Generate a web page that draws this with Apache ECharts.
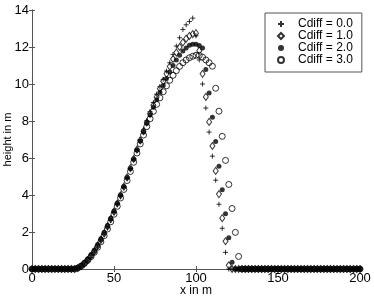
<!DOCTYPE html>
<html>
<head>
<meta charset="utf-8">
<script src="https://cdn.jsdelivr.net/npm/echarts@6/dist/echarts.min.js"></script>
<style>html,body{margin:0;padding:0;background:#fff}#c{width:374px;height:296px}</style>
</head>
<body>
<div id="c"></div>
<script>
const xValues = [0,2,4,6,8,10,12,14,16,18,20,22,24,26,28,30,32,34,36,38,40,42,44,46,48,50,52,54,56,58,60,62,64,66,68,70,72,74,76,78,80,82,84,86,88,90,92,94,96,98,100,102,104,106,108,110,112,114,116,118,120,122,124,126,128,130,132,134,136,138,140,142,144,146,148,150,152,154,156,158,160,162,164,166,168,170,172,174,176,178,180,182,184,186,188,190,192,194,196,198,200];

const cdiff0 = [0,0,0,0,0,0,0,0,0,0,0,0,0,0,
  0.02,0.1,0.22,0.4,0.62,0.88,1.18,1.5,1.85,2.22,2.62,3.04,3.48,3.94,4.42,4.92,5.43,5.95,6.47,7.0,7.52,8.02,
  8.5,9.0,9.45,9.85,10.25,10.7,11.15,11.6,12.05,12.5,12.95,13.2,13.38,13.56,12.6,11.3,10.0,8.7,7.4,6.1,4.8,3.5,2.2,0.9,0,
  0,0,0,0,0,0,0,0,0,0,0,0,0,0,0,0,0,0,0,0,0,0,0,0,0,0,0,0,0,0,0,0,0,0,0,0,0,0,0,0];

const cdiff1 = [0,0,0,0,0,0,0,0,0,0,0,0,0,0,
  0.05,0.15,0.3,0.48,0.7,0.95,1.25,1.58,1.92,2.3,2.7,3.1,3.54,3.98,4.45,4.95,5.45,5.95,6.45,6.95,7.45,7.92,
  8.4,8.85,9.3,9.75,10.15,10.55,10.95,11.35,11.7,12.0,12.25,12.45,12.6,12.7,12.75,11.8,10.55,9.3,7.95,6.65,5.3,4.05,2.75,1.5,0.2,0,
  0,0,0,0,0,0,0,0,0,0,0,0,0,0,0,0,0,0,0,0,0,0,0,0,0,0,0,0,0,0,0,0,0,0,0,0,0,0,0];

const cdiff2 = [0,0,0,0,0,0,0,0,0,0,0,0,0,0,
  0.08,0.2,0.36,0.55,0.78,1.03,1.32,1.64,1.98,2.35,2.74,3.14,3.56,4.0,4.46,4.94,5.43,5.93,6.43,6.92,7.4,7.88,
  8.32,8.75,9.15,9.55,9.92,10.3,10.65,11.0,11.3,11.55,11.78,11.95,12.1,12.15,12.15,12.08,11.95,10.78,9.52,8.2,6.89,5.56,4.28,2.98,1.69,0.37,0,
  0,0,0,0,0,0,0,0,0,0,0,0,0,0,0,0,0,0,0,0,0,0,0,0,0,0,0,0,0,0,0,0,0,0,0,0,0,0];

const cdiff3 = [0,0,0,0,0,0,0,0,0,0,0,0,0,0,
  0.06,0.16,0.3,0.47,0.67,0.9,1.17,1.47,1.8,2.16,2.55,2.96,3.39,3.84,4.3,4.78,5.27,5.77,6.27,6.76,7.24,7.7,
  8.12,8.52,8.9,9.25,9.58,9.9,10.2,10.47,10.72,10.95,11.15,11.3,11.42,11.5,11.55,11.55,11.45,11.3,11.15,10.96,9.77,8.53,7.17,5.87,4.57,3.27,1.98,0.68,0,
  0,0,0,0,0,0,0,0,0,0,0,0,0,0,0,0,0,0,0,0,0,0,0,0,0,0,0,0,0,0,0,0,0,0,0,0,0,0];

const seriesNames = ['Cdiff = 0.0','Cdiff = 1.0','Cdiff = 2.0','Cdiff = 3.0'];
const xTicks = [0,50,100,150,200];
const yTicks = [0,2,4,6,8,10,12,14];

const pairs = arr => xValues.map((x,i)=>[x,arr[i]]);
const FONT = '"Liberation Sans", Arial, sans-serif';
const AX = '#555';

const plusPath = 'path://M0,5L10,5M5,0L5,10';
const hollow = {color:'rgba(0,0,0,0)', borderColor:'#000', borderWidth:1};

const chart = echarts.init(document.getElementById('c'), null, {renderer:'canvas'});
const common = {type:'scatter', xAxisIndex:0, yAxisIndex:0, animation:false, emphasis:{disabled:true}};
chart.setOption({
  animation:false,
  grid:{left:32, right:14, top:10, bottom:27, show:false, containLabel:false, outerBoundsMode:'none'},
  legend:{
    orient:'vertical', left:265, top:13,
    padding:[5,9,6,12], itemGap:0, itemWidth:6, itemHeight:6,
    borderColor:AX, borderWidth:1, backgroundColor:'#fff',
    textStyle:{fontFamily:FONT, fontSize:12, color:'#000', lineHeight:11.5, padding:[0,0,0,9]},
    data:seriesNames, selectedMode:false
  },
  xAxis:[{
    type:'value', min:0, max:200, interval:50,
    name:'x in m', nameLocation:'middle', nameGap:16, nameMoveOverlap:false,
    nameTextStyle:{fontFamily:FONT, fontSize:12, color:'#000', verticalAlign:'top'},
    axisLine:{show:true, lineStyle:{color:AX}},
    axisTick:{show:true, inside:true, length:3, lineStyle:{color:AX}},
    axisLabel:{fontFamily:FONT, fontSize:13, color:'#000', margin:3,
      customValues:xTicks, formatter:v=>String(v)},
    splitLine:{show:false}
  },{
    type:'value', min:0, max:200, interval:50, position:'top',
    axisLine:{show:true, lineStyle:{color:AX}},
    axisTick:{show:true, inside:true, length:3, lineStyle:{color:AX}},
    axisLabel:{show:false}, splitLine:{show:false}
  }],
  yAxis:[{
    type:'value', min:0, max:14, interval:2,
    name:'height in m', nameLocation:'middle', nameGap:19, nameRotate:90, nameMoveOverlap:false,
    nameTextStyle:{fontFamily:FONT, fontSize:11, color:'#000', verticalAlign:'bottom'},
    axisLine:{show:true, lineStyle:{color:AX}},
    axisTick:{show:true, inside:true, length:3, lineStyle:{color:AX}},
    axisLabel:{fontFamily:FONT, fontSize:13, color:'#000', margin:3,
      customValues:yTicks, formatter:v=>String(v)},
    splitLine:{show:false}
  },{
    type:'value', min:0, max:14, interval:2, position:'right',
    axisLine:{show:true, lineStyle:{color:AX}},
    axisTick:{show:true, inside:true, length:3, lineStyle:{color:AX}},
    axisLabel:{show:false}, splitLine:{show:false}
  }],
  series:[
    Object.assign({}, common, {name:seriesNames[0], data:pairs(cdiff0), symbol:plusPath, symbolSize:5,
      itemStyle:{color:'rgba(0,0,0,0)', borderColor:'#000', borderWidth:1}}),
    Object.assign({}, common, {name:seriesNames[1], data:pairs(cdiff1), symbol:'diamond', symbolSize:[5,7],
      itemStyle:hollow}),
    Object.assign({}, common, {name:seriesNames[2], data:pairs(cdiff2), symbol:'circle', symbolSize:5,
      itemStyle:{color:'#000'}}),
    Object.assign({}, common, {name:seriesNames[3], data:pairs(cdiff3), symbol:'circle', symbolSize:6,
      itemStyle:hollow})
  ]
});
</script>
</body>
</html>
